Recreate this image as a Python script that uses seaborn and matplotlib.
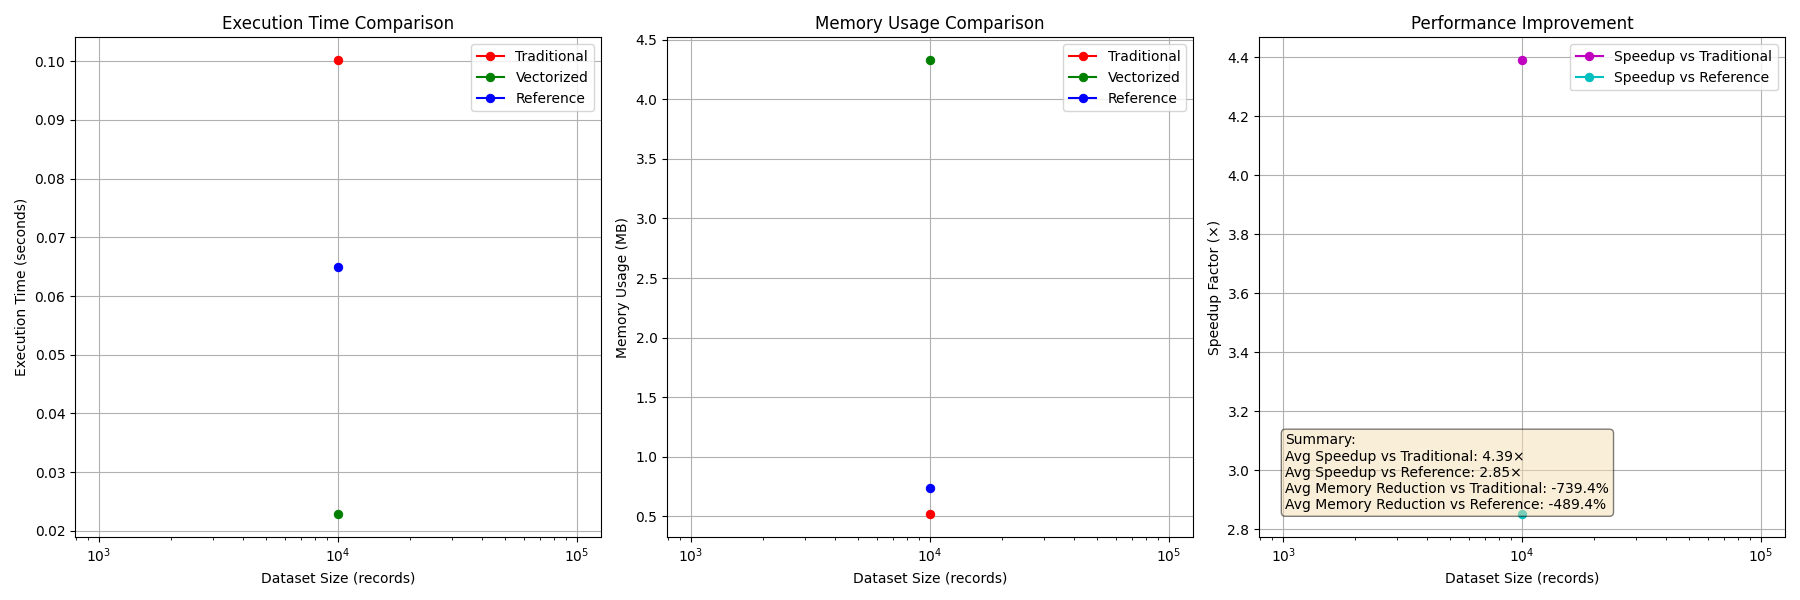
import seaborn as sns
import matplotlib
matplotlib.use("Agg")
import matplotlib.pyplot as plt
import pandas as pd

# Dados
sizes = [10000]
time_traditional = [0.1002]
time_vectorized = [0.0228]
time_reference = [0.0650]
mem_traditional = [0.516]
mem_vectorized = [4.33]
mem_reference = [0.735]
speedup_traditional = [4.39]
speedup_reference = [2.85]

summary = ("Summary:\n"
           "Avg Speedup vs Traditional: 4.39×\n"
           "Avg Speedup vs Reference: 2.85×\n"
           "Avg Memory Reduction vs Traditional: -739.4%\n"
           "Avg Memory Reduction vs Reference: -489.4%")

fig, axes = plt.subplots(1, 3, figsize=(18, 6), dpi=100)

# Tempo de execução
ax = axes[0]
sns.lineplot(x=sizes, y=time_traditional, marker='o', color='r', label='Traditional', ax=ax, markeredgecolor='r')
sns.lineplot(x=sizes, y=time_vectorized, marker='o', color='g', label='Vectorized', ax=ax, markeredgecolor='g')
sns.lineplot(x=sizes, y=time_reference, marker='o', color='b', label='Reference', ax=ax, markeredgecolor='b')
ax.set_xscale('log')
ax.set_title('Execution Time Comparison')
ax.set_xlabel('Dataset Size (records)')
ax.set_ylabel('Execution Time (seconds)')
ax.grid(True)
ax.legend(loc='upper right')

# Memória
ax = axes[1]
sns.lineplot(x=sizes, y=mem_traditional, marker='o', color='r', label='Traditional', ax=ax, markeredgecolor='r')
sns.lineplot(x=sizes, y=mem_vectorized, marker='o', color='g', label='Vectorized', ax=ax, markeredgecolor='g')
sns.lineplot(x=sizes, y=mem_reference, marker='o', color='b', label='Reference', ax=ax, markeredgecolor='b')
ax.set_xscale('log')
ax.set_title('Memory Usage Comparison')
ax.set_xlabel('Dataset Size (records)')
ax.set_ylabel('Memory Usage (MB)')
ax.grid(True)
ax.legend(loc='upper right')

# Speedup
ax = axes[2]
sns.lineplot(x=sizes, y=speedup_traditional, marker='o', color='m', label='Speedup vs Traditional', ax=ax, markeredgecolor='m')
sns.lineplot(x=sizes, y=speedup_reference, marker='o', color='c', label='Speedup vs Reference', ax=ax, markeredgecolor='c')
ax.set_xscale('log')
ax.set_title('Performance Improvement')
ax.set_xlabel('Dataset Size (records)')
ax.set_ylabel('Speedup Factor (×)')
ax.grid(True)
ax.legend(loc='upper right')
ax.text(0.05, 0.05, summary, transform=ax.transAxes, fontsize=10,
        verticalalignment='bottom',
        bbox=dict(boxstyle='round', facecolor='wheat', alpha=0.5))

plt.tight_layout()
plt.savefig('out.png')
